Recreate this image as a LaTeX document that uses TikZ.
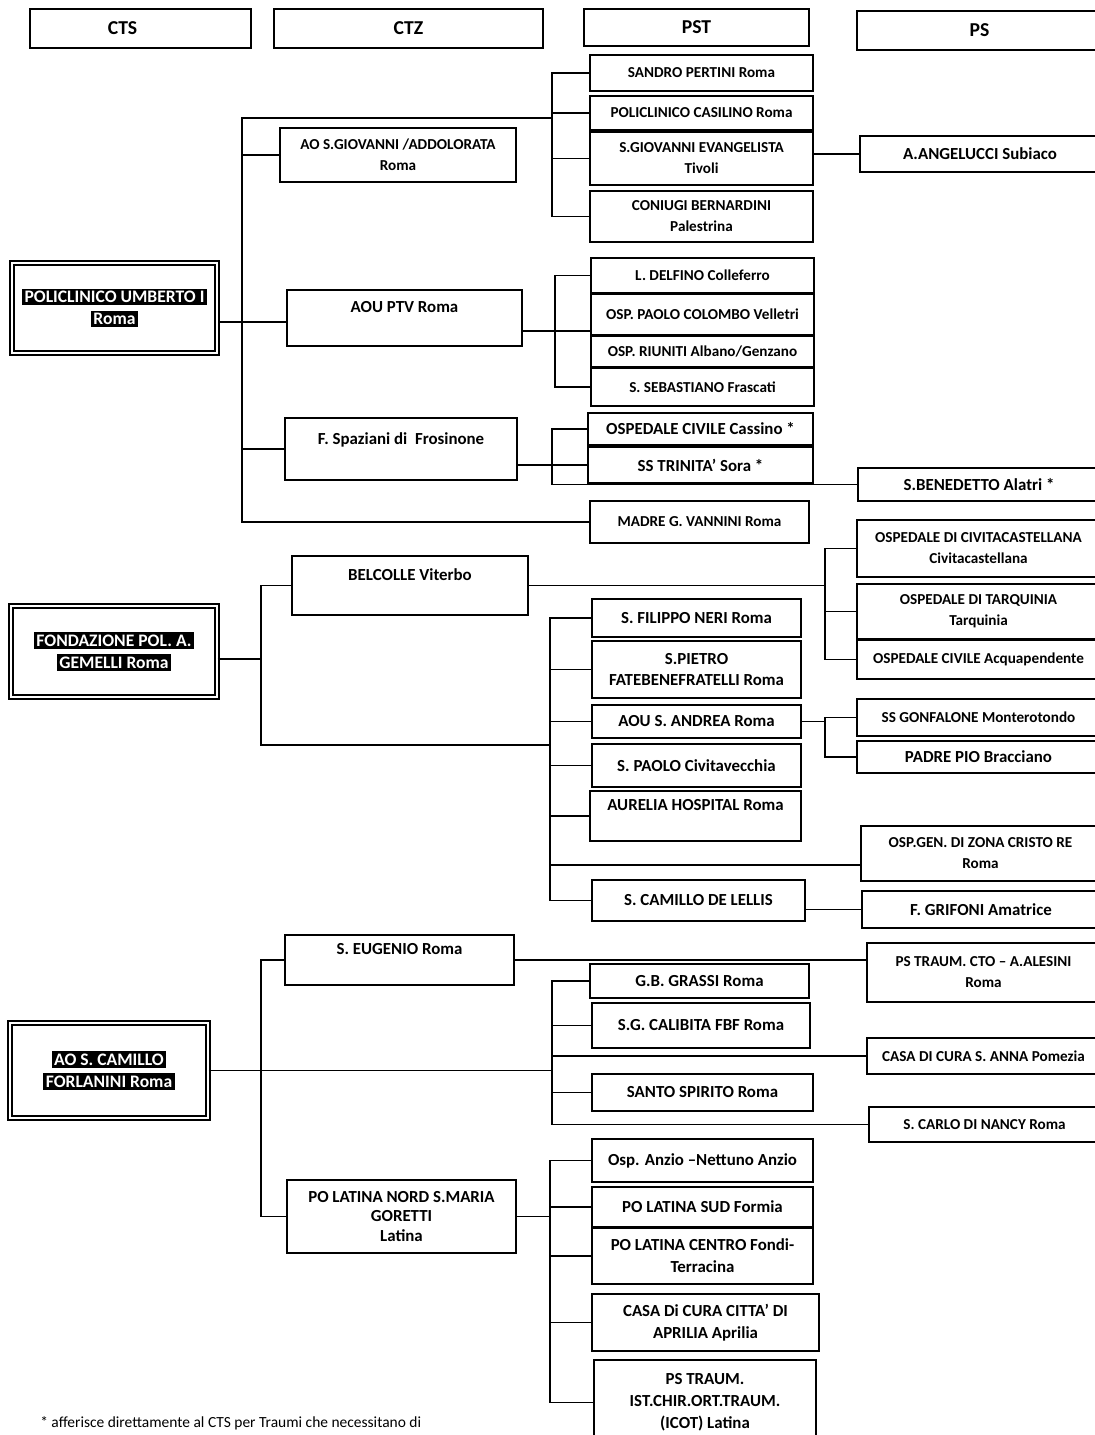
\documentclass[tikz,border=0pt]{standalone}
\usepackage{fontspec}
\setmainfont{Carlito}
\newcommand{\inv}[1]{{\setlength{\fboxsep}{1.8pt}\colorbox{black}{\color{white}#1}}}

\begin{document}
\begin{tikzpicture}[x=0.025cm, y=-0.025cm,
    every node/.style={font=\bfseries\fontsize{12}{15.5}\selectfont, align=center, inner sep=1pt},
    every path/.style={line width=1.2pt},
    sm/.style={font=\bfseries\fontsize{10.8}{15}\selectfont},
    hd/.style={font=\bfseries\fontsize{14}{16}\selectfont},
    bx/.style 2 args={draw, minimum width=#1*0.025cm, minimum height=#2*0.025cm},
    cts/.style 2 args={draw, double, double distance=1.6pt, line width=1pt,
      font=\bfseries\fontsize{12.5}{15.5}\selectfont,
      minimum width=#1*0.025cm, minimum height=#2*0.025cm}]
  \useasboundingbox (0,0) rectangle (1094,1435);
  \node[bx={221}{39}, hd] (hCTS) at (140.5,28.5) {CTS\hspace*{0.9cm}};
  \node[bx={269}{39}, hd] (hCTZ) at (408.5,28.5) {CTZ};
  \node[bx={225}{37}, hd] (hPST) at (696.5,27.5) {PST};
  \node[bx={245}{39}, hd] (hPS) at (979.5,30.5) {PS};

  \node[cts={205}{90}] (umberto) at (114.5,308) {\inv{POLICLINICO UMBERTO I}\\\inv{Roma}};
  \node[bx={236}{54}, sm] (aoSG) at (398,155) {AO S.GIOVANNI /ADDOLORATA\\Roma};
  \node[bx={235}{56}] (ptv) at (404.5,318) {AOU PTV Roma\\~};
  \node[bx={232}{62}] (spaz) at (401,449) {F. Spaziani di~ Frosinone\\~};
  \node[bx={223}{36}, sm] (pertini) at (701.5,73) {SANDRO PERTINI Roma};
  \node[bx={223}{34}, sm] (casilino) at (701.5,113) {POLICLINICO CASILINO Roma};
  \node[bx={223}{53}, sm] (evang) at (701.5,158.5) {S.GIOVANNI EVANGELISTA\\Tivoli};
  \node[bx={223}{51}, sm] (bernard) at (701.5,216.5) {CONIUGI BERNARDINI\\Palestrina};
  \node[bx={240}{36}] (angelucci) at (980,154) {A.ANGELUCCI Subiaco};
  \node[bx={223}{35}, sm] (delfino) at (702.5,275.5) {L. DELFINO Colleferro};
  \node[bx={223}{41}, sm] (colombo) at (702.5,314.5) {OSP. PAOLO COLOMBO Velletri};
  \node[bx={223}{31}, sm] (riuniti) at (702.5,351.5) {OSP. RIUNITI Albano/Genzano};
  \node[bx={223}{38}, sm] (sebast) at (702.5,387) {S. SEBASTIANO Frascati};
  \node[bx={225}{32}] (cassino) at (700.5,429) {OSPEDALE CIVILE Cassino *};
  \node[bx={225}{36}] (sora) at (700.5,465) {SS TRINITA' Sora *};
  \node[bx={242}{33}] (benedetto) at (979,484.5) {S.BENEDETTO Alatri *};
  \node[bx={219}{42}, sm] (vannini) at (699.5,522) {MADRE G. VANNINI Roma};

  \node[cts={206}{91}] (gemelli) at (114,651.5) {\inv{FONDAZIONE POL. A.}\\\inv{GEMELLI Roma}};
  \node[bx={236}{59}] (belcolle) at (410,585.5) {BELCOLLE Viterbo\\~};
  \node[bx={243}{57}, sm] (civita) at (978.5,548.5) {OSPEDALE DI CIVITACASTELLANA\\Civitacastellana};
  \node[bx={243}{55}, sm] (tarq) at (978.5,611.5) {OSPEDALE DI TARQUINIA\\Tarquinia};
  \node[bx={243}{39}, sm] (acqua) at (978.5,659.5) {OSPEDALE CIVILE Acquapendente};
  \node[bx={209}{38}] (neri) at (696.5,618) {S. FILIPPO NERI Roma};
  \node[bx={209}{57}] (pietro) at (696.5,669.5) {S.PIETRO\\FATEBENEFRATELLI Roma};
  \node[bx={209}{33}] (andrea) at (696.5,721.5) {AOU S. ANDREA Roma};
  \node[bx={209}{43}] (paolo) at (696.5,765.5) {S. PAOLO Civitavecchia};
  \node[bx={211}{50}] (aurelia) at (695.5,816) {AURELIA HOSPITAL Roma\\~};
  \node[bx={213}{41}] (lellis) at (698.5,900.5) {S. CAMILLO DE LELLIS};
  \node[bx={243}{37}, sm] (gonfal) at (978.5,717.5) {SS GONFALONE Monterotondo};
  \node[bx={243}{32}] (padre) at (978.5,757) {PADRE PIO Bracciano};
  \node[bx={239}{55}, sm] (cristo) at (980.5,853.5) {OSP.GEN. DI ZONA CRISTO RE\\Roma};
  \node[bx={238}{37}] (grifoni) at (981,909.5) {F. GRIFONI Amatrice};

  \node[cts={198}{95}] (forlan) at (109,1070.5) {\inv{AO S. CAMILLO}\\\inv{FORLANINI Roma}};
  \node[bx={229}{50}] (eugenio) at (399.5,960) {S. EUGENIO Roma\\~};
  \node[bx={229}{73}, font=\bfseries\fontsize{12}{14}\selectfont] (latnord) at (401.5,1216.5)
    {PO LATINA NORD S.MARIA\\GORETTI\\Latina};
  \node[bx={233}{59}, sm] (alesini) at (983.5,972.5) {PS TRAUM. CTO -- A.ALESINI\\Roma};
  \node[bx={219}{34}] (grassi) at (699.5,981) {G.B. GRASSI Roma};
  \node[bx={218}{45}] (calibita) at (701,1025.5) {S.G. CALIBITA FBF Roma};
  \node[bx={233}{36}, sm] (anna) at (983.5,1056) {CASA DI CURA S. ANNA Pomezia};
  \node[bx={221}{37}] (spirito) at (702.5,1092.5) {SANTO SPIRITO Roma};
  \node[bx={231}{35}, sm] (nancy) at (984.5,1124.5) {S. CARLO DI NANCY Roma};
  \node[bx={221}{43}] (anzio) at (702.5,1160.5) {Osp. Anzio --Nettuno Anzio};
  \node[bx={221}{40}] (formia) at (702.5,1207) {PO LATINA SUD Formia};
  \node[bx={221}{56}] (centro) at (702.5,1256) {PO LATINA CENTRO Fondi-\\Terracina};
  \node[bx={227}{57}] (aprilia) at (705.5,1322.5) {CASA Di CURA CITTA' DI\\APRILIA Aprilia};
  \node[bx={222}{85}] (icot) at (705,1402.5) {PS TRAUM.\\IST.CHIR.ORT.TRAUM.\\(ICOT) Latina};
  \node[anchor=west, font=\fontsize{11}{13}\selectfont] (nota) at (38,1423)
    {* afferisce direttamente al CTS per Traumi che necessitano di};

  \coordinate (t1) at (242,118);
  \coordinate (c1) at (552,0);
  \coordinate (c2) at (550,0);
  \coordinate (c3) at (825,0);
  \coordinate (c4) at (261,0);
  \draw (vannini.west) -| (t1) -- (t1 -| c1);
  \draw (aoSG.west) -- (aoSG.west -| t1);
  \draw (spaz.west) -- (spaz.west -| t1);
  \draw ([yshift=-0.1cm]ptv.west) -- ([yshift=-0.1cm]ptv.west -| umberto.east);
  \draw (pertini.west) -| (c1 |- bernard.west) -- (bernard.west);
  \foreach \n in {casilino,evang} \draw (\n.west) -- (\n.west -| c1);
  \draw (angelucci.west) -- (angelucci.west -| evang.east);
  \draw (delfino.west) -- ++(-35,0) |- (sebast.west);
  \draw ([yshift=-0.32cm]ptv.east) -- ([yshift=-0.32cm]ptv.east -| colombo.west);
  \draw (cassino.west) -| (c1 |- benedetto.west) -- (benedetto.west);
  \draw (sora.west) -- (sora.west -| spaz.east);

  \draw (belcolle.west) -| (c4 |- 0,745) -- (c2 |- 0,745);
  \draw ([yshift=-0.19cm]gemelli.east) -- ([yshift=-0.19cm]gemelli.east -| c4);
  \draw (belcolle.east) -- (belcolle.east -| c3);
  \draw (civita.west) -| (c3 |- acqua.west) -- (acqua.west);
  \draw (tarq.west) -- (tarq.west -| c3);
  \draw (neri.west) -| (c2 |- lellis.west) -- (lellis.west);
  \foreach \n in {pietro,andrea,paolo,aurelia} \draw (\n.west) -- (\n.west -| c2);
  \draw ([yshift=-0.29cm]cristo.west) -- ([yshift=-0.29cm]cristo.west -| c2);
  \draw (gonfal.west) -| (c3 |- padre.west) -- (padre.west);
  \draw (andrea.east) -- (andrea.east -| c3);
  \draw (grifoni.west) -- (grifoni.west -| lellis.east);

  \draw (eugenio.west) -| (c4 |- latnord.west) -- (latnord.west);
  \draw (forlan.east) -- (forlan.east -| c1);
  \draw (eugenio.east) -- (eugenio.east -| alesini.west);
  \draw (grassi.west) -| (c1 |- nancy.west) -- (nancy.west);
  \foreach \n in {calibita,anna,spirito} \draw (\n.west) -- (\n.west -| c1);
  \draw (anzio.west) -| (c2 |- icot.west) -- (icot.west);
  \foreach \n in {formia,centro,aprilia} \draw (\n.west) -- (\n.west -| c2);
  \draw (latnord.east) -- (latnord.east -| c2);
\end{tikzpicture}
\end{document}
